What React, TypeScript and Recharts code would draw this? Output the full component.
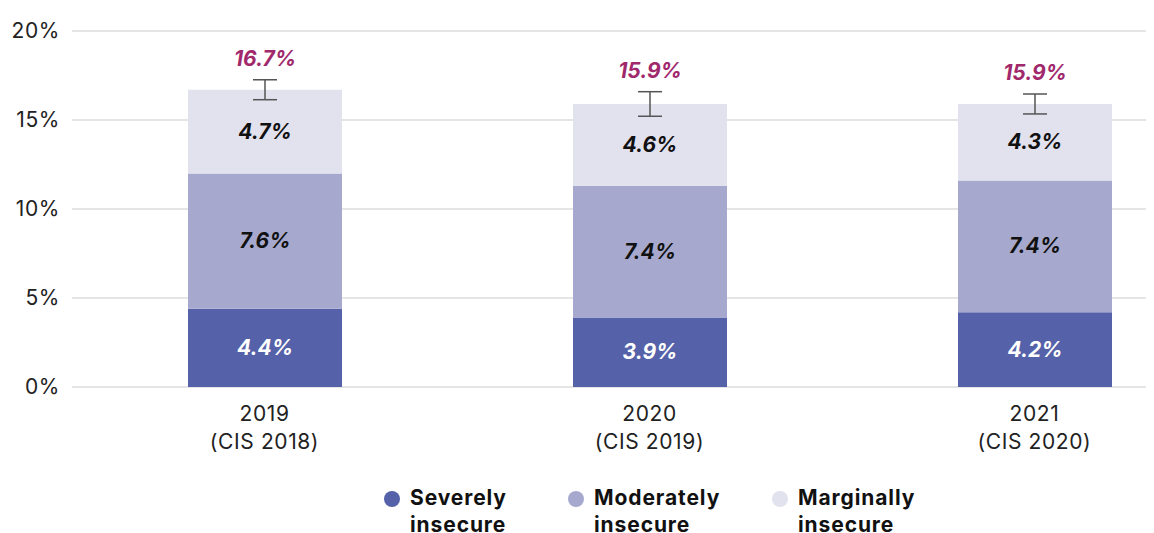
import React from "react";
import { BarChart, Bar, XAxis, YAxis, CartesianGrid, ErrorBar, LabelList } from "recharts";

const categories = ["2019", "2020", "2021"];
const subLabels = ["(CIS 2018)", "(CIS 2019)", "(CIS 2020)"];
const severe = [4.4, 3.9, 4.2];
const moderate = [7.6, 7.4, 7.4];
const marginal = [4.7, 4.6, 4.3];
const totals = [16.7, 15.9, 15.9];
const errors = [0.56, 0.69, 0.56];
const yTicks = [0, 5, 10, 15, 20];

const seriesNames = ["Severely insecure", "Moderately insecure", "Marginally insecure"];
const colors = ["#5561A8", "#A6A9CD", "#E2E2EF"];
const FONT = "Inter, 'Open Sans', sans-serif";

const data = categories.map((c, i) => ({
  name: c,
  sub: subLabels[i],
  severe: severe[i],
  moderate: moderate[i],
  marginal: marginal[i],
  total: totals[i],
  err: errors[i],
}));

const XTick = (props: any) => {
  const { x, y, payload, index } = props;
  return (
    <g>
      <text x={x} y={y + 26} textAnchor="middle" fontSize={21} letterSpacing={0.6} fill="#222" fontFamily={FONT}>
        {payload.value}
      </text>
      <text x={x} y={y + 54} textAnchor="middle" fontSize={21} letterSpacing={0.6} fill="#222" fontFamily={FONT}>
        {subLabels[index]}
      </text>
    </g>
  );
};

const segLabel = (fill: string) => (props: any) => {
  const { x, y, width, height, value } = props;
  return (
    <text
      x={x + width / 2}
      y={y + height / 2}
      dy={7}
      textAnchor="middle"
      fontSize={21}
      fontWeight={700}
      fontStyle="italic"
      fill={fill}
      fontFamily={FONT}
    >
      {`${Number(value).toFixed(1)}%`}
    </text>
  );
};

const totalLabel = (props: any) => {
  const { x, y, width, height, value, index } = props;
  const pxPerUnit = height / value;
  const errPx = errors[index] * pxPerUnit;
  return (
    <text
      x={x + width / 2}
      y={y - errPx - 14}
      textAnchor="middle"
      fontSize={21}
      fontWeight={700}
      fontStyle="italic"
      fill="#A0286B"
      fontFamily={FONT}
    >
      {`${totals[index].toFixed(1)}%`}
    </text>
  );
};

export default function App() {
  return (
    <div style={{ position: "relative", width: 1154, height: 533, overflow: "hidden", margin: "-8px 0 0 -8px", background: "#fff" }}>
      <BarChart
        width={1227}
        height={533}
        data={data}
        margin={{ top: 31, right: 0, bottom: 86, left: 0 }}
        barCategoryGap={0}
      >
        <CartesianGrid horizontal vertical={false} stroke="#DCDCDC" strokeWidth={1.5} />
        <XAxis
          dataKey="name"
          axisLine={false}
          tickLine={false}
          height={60}
          tick={<XTick />}
          interval={0}
        />
        <YAxis
          width={72}
          domain={[0, 20]}
          ticks={yTicks}
          axisLine={false}
          tickLine={false}
          tickSize={0}
          tickMargin={12}
          tick={{ fontSize: 21, fill: "#222", fontFamily: FONT, letterSpacing: 0.6 }}
          tickFormatter={(v: number) => `${v}%`}
        />
        <Bar dataKey="severe" stackId="a" fill={colors[0]} barSize={154} isAnimationActive={false}>
          <LabelList dataKey="severe" content={segLabel("#FFFFFF")} />
        </Bar>
        <Bar dataKey="moderate" stackId="a" fill={colors[1]} barSize={154} isAnimationActive={false}>
          <LabelList dataKey="moderate" content={segLabel("#111111")} />
        </Bar>
        <Bar dataKey="marginal" stackId="a" fill={colors[2]} barSize={154} isAnimationActive={false}>
          <LabelList dataKey="marginal" content={segLabel("#111111")} />
          <LabelList dataKey="marginal" content={totalLabel} />
          <ErrorBar dataKey="err" width={12} stroke="#555" strokeWidth={1.5} direction="y" />
        </Bar>
      </BarChart>
      <div style={{ position: "absolute", top: 484, left: 0, width: 1154, height: 49, fontFamily: FONT }}>
        {seriesNames.map((n, i) => {
          const lefts = [384, 568, 772];
          const words = n.split(" ");
          return (
            <div key={n} style={{ position: "absolute", left: lefts[i], top: 0, display: "flex", alignItems: "flex-start" }}>
              <span style={{ width: 16, height: 16, borderRadius: 8, background: colors[i], marginTop: 7, marginRight: 10, display: "inline-block" }} />
              <span style={{ fontSize: 21, fontWeight: 700, color: "#111", lineHeight: "27px", letterSpacing: 0.9 }}>
                {words[0]}
                <br />
                {words[1]}
              </span>
            </div>
          );
        })}
      </div>
    </div>
  );
}
